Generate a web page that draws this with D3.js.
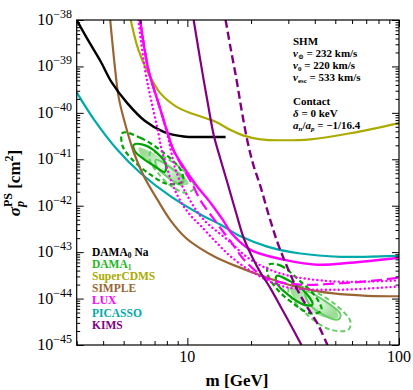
<!DOCTYPE html>
<html>
<head>
<meta charset="utf-8">
<script src="https://cdn.jsdelivr.net/npm/d3@7"></script>
<style>
  body { margin: 0; background: #fff; }
  text { font-family: "Liberation Serif", "DejaVu Serif", serif; }
</style>
</head>
<body>
<svg id="chart" width="413" height="390"></svg>
<script>
// curves are [m in GeV, log10(sigma / cm^2)]
var dama0Na = [[3.0,-38],[3.39,-38.43],[3.9,-38.9],[4.4,-39.35],[5.2,-39.79],[6.29,-40.17],[7.73,-40.41],[9.61,-40.51],[12.2,-40.52],[15.16,-40.52]];
var superCDMS = [[5.4,-38],[5.87,-38.645],[6.43,-39.075],[7.43,-39.57],[8.9,-39.87],[10.59,-40.02],[12.33,-40.12],[13.6,-40.19],[16.0,-40.37],[18.44,-40.49],[22.17,-40.57],[27.55,-40.59],[38.15,-40.57],[58.9,-40.44],[100,-40.22]];
var simple = [[4.32,-38],[4.56,-39.075],[4.73,-39.65],[5.02,-40.15],[5.6,-40.87],[6.24,-41.37],[7.22,-41.87],[8.34,-42.32],[9.82,-42.69],[11.55,-42.925],[13.75,-43.12],[16.54,-43.28],[23.85,-43.55],[34.2,-43.77],[49.0,-43.89],[70.6,-43.94],[100,-43.95]];
var picasso = [[3.0,-39.56],[3.63,-40.15],[4.68,-40.8],[6.02,-41.3],[8.34,-41.8],[11.55,-42.19],[14.36,-42.41],[17.84,-42.66],[23.85,-42.88],[34.2,-43.03],[52.9,-43.1],[81.6,-43.09],[100,-43.08]];
var luxSolid = [[5.98,-38],[6.55,-39.075],[7.3,-39.79],[7.99,-40.37],[8.59,-40.8],[9.57,-41.16],[11.06,-41.57],[12.88,-41.94],[14.68,-42.3],[16.36,-42.62],[19.89,-42.95],[28.46,-43.16],[41.2,-43.27],[58.9,-43.23],[100,-43.12]];
var luxDashed = [[5.98,-38],[6.55,-39.075],[7.3,-39.79],[7.99,-40.37],[8.59,-40.8],[9.5,-41.18],[10.59,-41.55],[11.55,-41.89],[13.6,-42.34],[16.0,-42.77],[18.84,-43.2],[23.85,-43.57],[34.2,-43.7],[48.98,-43.68],[70.1,-43.63],[100,-43.55]];
var luxDotA = [[5.87,-38],[6.31,-39.075],[6.79,-39.79],[7.3,-40.44],[7.56,-40.8],[7.81,-41.01],[8.52,-41.55],[9.5,-41.98],[10.59,-42.26],[11.55,-42.43],[13.31,-42.73],[16.0,-43.09],[20.5,-43.44],[28.46,-43.74],[48.98,-43.81],[100,-43.74]];
var luxDotB = [[5.98,-38],[6.55,-39.075],[7.3,-39.79],[7.99,-40.41],[8.9,-41.29],[10.25,-41.87],[11.94,-42.3],[15.44,-42.73],[19.89,-43.16],[27.55,-43.46],[48.98,-43.63],[100,-43.61]];
var kimsSolid = [[10.71,-38],[11.3,-38.645],[11.94,-39.29],[12.6,-39.89],[13.31,-40.47],[14.36,-41.01],[15.65,-41.59],[17.08,-42.19],[18.44,-42.69],[20.32,-43.12],[22.17,-43.44],[24.7,-43.78],[27.55,-44.17],[30.7,-44.56],[34.6,-45]];
var kimsDashed = [[15.16,-38],[16.0,-38.6],[17.08,-39.29],[18.04,-39.94],[19.25,-40.62],[20.5,-41.12],[22.17,-41.59],[24.2,-42.19],[26.7,-42.8],[29.7,-43.33],[33.1,-43.81],[36.9,-44.19],[41.2,-44.54],[45.9,-45]];

// DAMA regions, low-mass (Na) and high-mass (I) islands, closed contours
var naShade = [[5.89,-40.75],[6.71,-40.84],[7.9,-41.05],[9.5,-41.33],[10.14,-41.53],[9.3,-41.55],[7.9,-41.35],[6.71,-41.1],[6.02,-40.9]];
var naDarkSolid = [[5.58,-40.69],[6.22,-40.69],[7.09,-40.84],[7.9,-41.1],[7.82,-41.27],[6.95,-41.14],[6.12,-40.97],[5.64,-40.82]];
var naDarkDashed = [[4.94,-40.43],[6.02,-40.54],[7.73,-40.86],[9.3,-41.23],[9.5,-41.48],[8.07,-41.53],[6.5,-41.29],[5.4,-40.97],[4.94,-40.71]];
var naLightSolid = [[7.09,-41.01],[8.34,-41.18],[9.61,-41.44],[9.3,-41.55],[8.16,-41.4],[7.17,-41.16]];
var naLightDashed = [[6.71,-40.84],[8.16,-41.01],[9.82,-41.29],[10.8,-41.61],[9.82,-41.72],[8.34,-41.57],[7.24,-41.29],[6.64,-41.01]];
var iShade = [[30.7,-43.76],[40.3,-43.98],[50.1,-44.24],[51.7,-44.41],[44.9,-44.41],[36.1,-44.19],[31.4,-43.94]];
var iDarkSolid = [[26.4,-43.51],[30.7,-43.63],[36.5,-43.89],[39.0,-44.13],[35.4,-44.13],[29.4,-43.89],[26.4,-43.66]];
var iDarkDashed = [[24.2,-43.27],[27.6,-43.29],[34.2,-43.63],[40.7,-43.98],[43.0,-44.26],[38.2,-44.32],[30.7,-44.06],[26.1,-43.76],[23.9,-43.46]];
var iLightSolid = [[36.1,-43.85],[44.9,-44.06],[52.9,-44.34],[51.7,-44.45],[43.5,-44.34],[37.3,-44.09]];
var iLightDashed = [[30.7,-43.72],[38.2,-43.81],[50.1,-44.13],[58.9,-44.49],[57.7,-44.67],[47.4,-44.67],[38.2,-44.41],[32.4,-44.09],[30.0,-43.85]];

var legendNames = ["DAMA0 Na", "DAMA1", "SuperCDMS", "SIMPLE", "LUX", "PICASSO", "KIMS"];
var legendColors = ["#000000", "#1fb51f", "#aaaa00", "#996633", "#ff00ff", "#00aaaa", "#800080"];
var xMajor = [10, 100];
var yExponents = [-45, -44, -43, -42, -41, -40, -39, -38];

var svg = d3.select("#chart");
var x = d3.scaleLog().domain([3, 100]).range([76.7, 399]),
    y = d3.scaleLog().domain([1e-45, 1e-38]).range([345, 20]);

var darkGreen = "#00a400", lightGreen = "#66cc66";

svg.append("clipPath").attr("id", "plotclip")
  .append("rect").attr("x", 76.7).attr("y", 20).attr("width", 322.3).attr("height", 325);

var grad = svg.append("defs").append("radialGradient").attr("id", "shade");
grad.append("stop").attr("offset", "0%").attr("stop-color", "#eefaec");
grad.append("stop").attr("offset", "100%").attr("stop-color", "#9edd98");

var plot = svg.append("g").attr("clip-path", "url(#plotclip)");

var line = d3.line()
  .x(function (d) { return x(d[0]); })
  .y(function (d) { return y(Math.pow(10, d[1])); })
  .curve(d3.curveCatmullRom.alpha(0.5));
var loop = d3.line()
  .x(function (d) { return x(d[0]); })
  .y(function (d) { return y(Math.pow(10, d[1])); })
  .curve(d3.curveCatmullRomClosed.alpha(0.5));

function curve(data, color, width, dash) {
  plot.append("path").attr("d", line(data))
    .attr("fill", "none").attr("stroke", color).attr("stroke-width", width)
    .attr("stroke-dasharray", dash || null)
    .attr("stroke-linecap", dash && dash.charAt(0) === "0" ? "round" : "butt");
}
function region(data, color, width, dash, fill) {
  plot.append("path").attr("d", loop(data))
    .attr("fill", fill || "none").attr("stroke", color).attr("stroke-width", width)
    .attr("stroke-dasharray", dash || null);
}

// DAMA regions
region(naShade, "none", 0, null, "url(#shade)");
region(iShade, "none", 0, null, "url(#shade)");
region(naLightSolid, lightGreen, 2);
region(naLightDashed, lightGreen, 2, "5,3");
region(iLightSolid, lightGreen, 2);
region(iLightDashed, lightGreen, 2, "5,3");
region(naDarkSolid, darkGreen, 2.2);
region(naDarkDashed, darkGreen, 2.2, "5,3");
region(iDarkSolid, darkGreen, 2.2);
region(iDarkDashed, darkGreen, 2.2, "5,3");

curve(picasso, "#00aaaa", 2.2);
curve(simple, "#996633", 2.2);
curve(superCDMS, "#aaaa00", 2.2);
curve(dama0Na, "#000000", 2.4);
curve(luxDotA, "#ff00ff", 2.4, "0.1,4.2");
curve(luxDotB, "#ff00ff", 2.4, "0.1,4.2");
curve(luxDashed, "#ff00ff", 2.2, "11,5");
curve(luxSolid, "#ff00ff", 2.4);
curve(kimsSolid, "#800080", 2.2);
curve(kimsDashed, "#800080", 2.4, "8,4");

// frame and ticks (inside, on all four sides)
var xMinor = [];
[1, 10].forEach(function (dec) {
  for (var k = 2; k <= 9; k++) if (k * dec >= 3 && k * dec < 100) xMinor.push(k * dec);
});
var yMinor = [];
yExponents.slice(0, -1).forEach(function (e) {
  for (var k = 2; k <= 9; k++) yMinor.push(k * Math.pow(10, e));
});
var yMajorVals = yExponents.map(function (e) { return Math.pow(10, e); });

function ticks(axis, transform) {
  var g = svg.append("g").attr("transform", transform).call(axis);
  g.select(".domain").remove();
  g.selectAll("line").attr("stroke", "#000").attr("stroke-width", 1);
  g.selectAll("text").remove();
}
ticks(d3.axisBottom(x).tickValues(xMajor).tickSize(-7), "translate(0,345)");
ticks(d3.axisBottom(x).tickValues(xMinor).tickSize(-4), "translate(0,345)");
ticks(d3.axisTop(x).tickValues(xMajor).tickSize(-7), "translate(0,20)");
ticks(d3.axisTop(x).tickValues(xMinor).tickSize(-4), "translate(0,20)");
ticks(d3.axisLeft(y).tickValues(yMajorVals).tickSize(-7), "translate(76.7,0)");
ticks(d3.axisLeft(y).tickValues(yMinor).tickSize(-3.5), "translate(76.7,0)");
ticks(d3.axisRight(y).tickValues(yMajorVals).tickSize(-7), "translate(399,0)");
ticks(d3.axisRight(y).tickValues(yMinor).tickSize(-3.5), "translate(399,0)");

svg.append("rect").attr("x", 76.7).attr("y", 20).attr("width", 322.3).attr("height", 325)
  .attr("fill", "none").attr("stroke", "#000").attr("stroke-width", 1.2);

// tick labels
svg.selectAll(".xlab").data(xMajor).enter().append("text")
  .attr("x", function (d) { return x(d); }).attr("y", 362)
  .attr("text-anchor", "middle").attr("font-size", 16).text(function (d) { return d; });

var yl = svg.selectAll(".ylab").data(yExponents).enter().append("text")
  .attr("x", 72).attr("y", function (d) { return y(Math.pow(10, d)) + 5; })
  .attr("text-anchor", "end").attr("font-size", 16);
yl.append("tspan").text("10");
yl.append("tspan").attr("dy", -7).attr("font-size", 12).text(function (d) { return "\u2212" + (-d); });

// axis titles
svg.append("text").attr("x", 237).attr("y", 386).attr("text-anchor", "middle")
  .attr("font-size", 17).attr("font-weight", "bold").text("m [GeV]");

var yt = svg.append("text").attr("transform", "translate(20,183) rotate(-90)")
  .attr("text-anchor", "middle").attr("font-size", 17).attr("font-weight", "bold");
yt.append("tspan").attr("font-style", "italic").text("\u03c3");
yt.append("tspan").attr("font-style", "italic").attr("font-size", 12).attr("dy", 4).text("p");
yt.append("tspan").attr("font-size", 12).attr("dx", -6).attr("dy", -12).text("PS");
yt.append("tspan").attr("dy", 8).text(" [cm");
yt.append("tspan").attr("font-size", 12).attr("dy", -7).text("2");
yt.append("tspan").attr("dy", 7).text("]");

// legend
var leg = svg.selectAll(".leg").data(legendNames).enter().append("text")
  .attr("x", 92).attr("y", function (d, i) { return 256 + i * 12.1; })
  .attr("font-size", 11.5).attr("font-weight", "bold")
  .attr("fill", function (d, i) { return legendColors[i]; });
leg.each(function (d) {
  var t = d3.select(this), m = d.match(/^DAMA(\d)(.*)$/);
  if (m) {
    t.append("tspan").text("DAMA");
    t.append("tspan").attr("font-size", 7.5).attr("dy", 1.5).text(m[1]);
    t.append("tspan").attr("dy", -1.5).text(m[2]);
  } else t.text(d);
});

// model annotation: parts are [text, italic, dy, small]
var note = svg.append("g").attr("font-size", 11).attr("font-weight", "bold");
function noteLine(yy, parts) {
  var t = note.append("text").attr("x", 293).attr("y", yy);
  parts.forEach(function (p) {
    var s = t.append("tspan").text(p[0]);
    if (p[1]) s.attr("font-style", "italic");
    if (p[2]) s.attr("dy", p[2]);
    if (p[3]) s.attr("font-size", 7);
  });
}
noteLine(45, [["SHM"]]);
noteLine(57, [["v", 1], ["\u2299", 0, 1.5, 1], [" = 232 km/s", 0, -1.5]]);
noteLine(69, [["v", 1], ["0", 0, 1.5, 1], [" = 220 km/s", 0, -1.5]]);
noteLine(81, [["v", 1], ["esc", 0, 1.5, 1], [" = 533 km/s", 0, -1.5]]);
noteLine(105, [["Contact"]]);
noteLine(117, [["\u03b4", 1], [" = 0 keV"]]);
noteLine(129, [["a", 1], ["n", 1, 1.5, 1], ["/", 0, -1.5], ["a", 1], ["p", 1, 1.5, 1], [" = \u22121/16.4", 0, -1.5]]);
</script>
</body>
</html>
